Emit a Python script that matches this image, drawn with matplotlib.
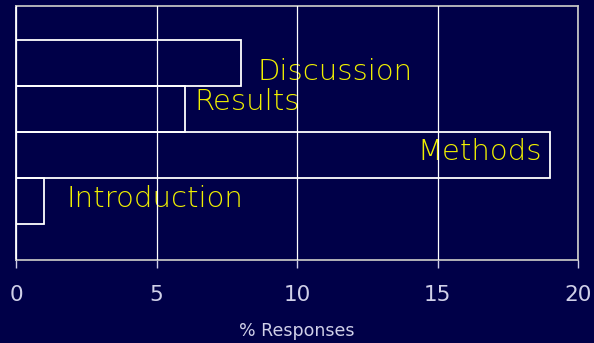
import matplotlib.pyplot as plt

# data (bottom to top)
categories = ['Introduction', 'Methods', 'Results', 'Discussion']
responses = [1, 19, 6, 8]
label_x = [1.8, 14.3, 6.35, 8.6]
label_dy = [0.05, 0.06, 0.15, -0.19]
xticks = [0, 5, 10, 15, 20]

BG = '#000048'
YELLOW = '#f0f000'
LIGHT = '#d0d0e8'

fig = plt.figure(figsize=(5.94, 3.43), dpi=100, facecolor=BG)
ax = fig.add_axes([16 / 594, 1 - 260 / 343, (578 - 16) / 594, (260 - 6) / 343])
ax.set_facecolor(BG)

pos = list(range(len(categories)))
ax.barh(pos, responses, height=1.0, facecolor='none', edgecolor='white',
        linewidth=1.3, zorder=3)

for i, name in enumerate(categories):
    ax.text(label_x[i], pos[i] + label_dy[i], name, color=YELLOW,
            fontsize=21, family='DejaVu Sans', fontweight='light',
            ha='left', va='center', zorder=2)

ax.set_xlim(0, 20)
ax.set_ylim(-1.28, 4.24)
ax.set_xticks(xticks)
ax.set_xticklabels([str(t) for t in xticks])
ax.set_yticks([])
ax.grid(axis='x', color='white', linewidth=0.9, zorder=4)
ax.set_axisbelow(False)

ax.tick_params(axis='x', colors=LIGHT, length=6, width=1, pad=12, labelsize=15.5)
ax.set_xlabel('% Responses', color=LIGHT, fontsize=12.5, labelpad=12)

for side in ['top', 'right', 'bottom', 'left']:
    ax.spines[side].set_color('#c0c0c0')
    ax.spines[side].set_linewidth(1.3)
ax.spines['left'].set_color('white')

fig.savefig('out.png', dpi=100, facecolor=BG)
